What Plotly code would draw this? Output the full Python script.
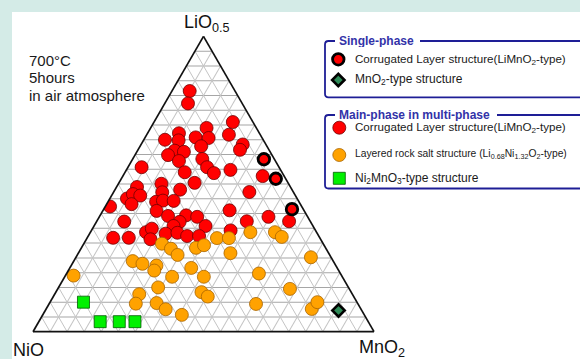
import plotly.graph_objects as go

W, H = 580, 359

# Compositions in mol% : LiO0.5 / NiO / MnO2
# Single-phase: corrugated layer structure (LiMnO2-type)
single_clr_li = [58.4, 51.8, 41.5]
single_clr_ni = [3.1, 2.9, 3.3]
single_clr_mn = [38.5, 45.3, 55.2]

# Single-phase: MnO2-type structure
single_mno2_li = [7.2]
single_mno2_ni = [6.8]
single_mno2_mn = [86.0]

# Main phase in multi-phase samples: corrugated layer structure
main_clr_li = [81.5, 77.3, 71.0, 69.0, 67.2, 66.7, 65.0, 64.8, 65.8, 65.6, 63.4, 61.6,
               62.8, 61.3, 60.9, 59.8, 57.8, 58.5, 55.7, 53.7, 55.7, 54.0, 54.8, 52.7,
               50.1, 50.4, 49.0, 48.1, 47.3, 45.1, 46.6, 46.1, 43.2, 47.2, 44.0, 44.4,
               44.3, 42.4, 40.9, 41.1, 39.2, 39.4, 38.9, 37.2, 35.8, 37.3, 35.8, 37.4,
               38.9, 37.4, 33.7, 34.9, 33.2, 33.5, 32.4, 32.4, 34.3, 31.8, 31.8, 31.3]
main_clr_ni = [13.3, 15.9, 5.9, 14.6, 23.6, 9.2, 28.8, 24.9, 19.4, 15.7, 6.8, 8.5,
               19.3, 27.8, 25.3, 30.5, 28.3, 21.1, 21.1, 20.1, 40.3, 28.5, 14.7, 6.3,
               37.3, 27.4, 45.0, 32.8, 12.9, 49.9, 47.4, 45.5, 49.5, 38.5, 41.9, 39.7,
               36.6, 56.2, 43.3, 21.8, 40.8, 35.4, 32.4, 38.4, 40.9, 54.6, 31.5, 18.6,
               11.5, 6.2, 50.0, 47.7, 44.5, 40.9, 38.6, 35.1, 24.9, 60.6, 56.0, 49.9]
main_clr_mn = [5.2, 6.8, 23.1, 16.4, 9.2, 24.1, 6.2, 10.3, 14.8, 18.7, 29.8, 29.9,
               17.9, 10.9, 13.8, 9.7, 13.9, 20.4, 23.2, 26.2, 4.0, 17.5, 30.5, 41.0,
               12.6, 22.2, 6.0, 19.1, 39.8, 5.0, 6.0, 8.4, 7.3, 14.3, 14.1, 15.9,
               19.1, 1.4, 15.8, 37.1, 20.0, 25.2, 28.7, 24.4, 23.3, 8.1, 32.7, 44.0,
               49.6, 56.4, 16.3, 17.4, 22.3, 25.6, 29.0, 32.5, 40.8, 7.6, 12.2, 18.8]

# Main phase: layered rock salt structure (Li0.68Ni1.32O2-type)
main_rs_li = [31.7, 31.7, 33.7, 33.7, 32.1, 29.8, 28.1, 26.0, 28.4, 29.3, 26.6, 25.2,
              23.9, 23.0, 22.4, 20.7, 21.6, 19.7, 19.0, 18.6, 18.6, 15.0, 14.5, 13.4,
              11.9, 12.7, 9.5, 9.7, 7.6, 9.4, 7.7, 10.0, 5.7]
main_rs_ni = [30.2, 26.7, 19.4, 12.2, 11.0, 47.3, 45.5, 44.6, 38.0, 35.2, 28.8, 5.9,
              58.8, 56.4, 52.6, 54.1, 42.8, 23.9, 78.6, 49.9, 40.6, 55.8, 17.4, 43.9,
              42.8, 62.5, 65.1, 58.9, 57.3, 29.9, 14.4, 11.6, 53.5]
main_rs_mn = [38.1, 41.6, 46.9, 54.1, 56.9, 22.9, 26.4, 29.4, 33.6, 35.5, 44.6, 68.9,
              17.3, 20.6, 25.0, 25.2, 35.6, 56.4, 2.4, 31.5, 40.8, 29.2, 68.1, 42.7,
              45.3, 24.8, 25.4, 31.4, 35.1, 60.7, 77.9, 78.4, 40.8]

# Main phase: Ni2MnO3-type structure
main_ni2_li = [10.0, 3.4, 3.4, 3.4]
main_ni2_ni = [80.2, 78.6, 73.0, 68.4]
main_ni2_mn = [9.8, 18.0, 23.6, 28.2]

# Phase labels used in the key
single_title = "Single-phase"
main_title = "Main-phase in multi-phase"
label_clr = "Corrugated Layer structure(LiMnO<sub>2</sub>-type)"
label_mno2 = "MnO<sub>2</sub>-type structure"
label_rs = "Layered rock salt structure (Li<sub>0.68</sub>Ni<sub>1.32</sub>O<sub>2</sub>-type)"
label_ni2 = "Ni<sub>2</sub>MnO<sub>3</sub>-type structure"
condition_lines = ["700°C", "5hours", "in air atmosphere"]

FONT = "Arial, 'Liberation Sans', sans-serif"
RED = dict(color="#ff0000", size=13, line=dict(color="#6e0000", width=0.8))
RING = dict(color="#ff0000", size=11.5, line=dict(color="#000000", width=2.8))
ORANGE = dict(color="#ffa200", size=13, line=dict(color="#a86400", width=0.8))
GREEN = dict(color="#00f000", size=12, symbol="square", line=dict(color="#005a00", width=0.8))
DIAMOND = dict(color="#2e8b57", size=9.5, symbol="diamond", line=dict(color="#000000", width=2.6))


def px(x):
    return x / W


def py(y):
    return 1 - y / H


fig = go.Figure()

tern_series = [
    (main_clr_li, main_clr_ni, main_clr_mn, RED),
    (main_rs_li, main_rs_ni, main_rs_mn, ORANGE),
    (main_ni2_li, main_ni2_ni, main_ni2_mn, GREEN),
    (single_clr_li, single_clr_ni, single_clr_mn, RING),
    (single_mno2_li, single_mno2_ni, single_mno2_mn, DIAMOND),
]
for a, b, c, mk in tern_series:
    fig.add_trace(go.Scatterternary(a=a, b=b, c=c, mode="markers", marker=mk,
                                    showlegend=False, hoverinfo="skip"))

# Key swatches on an overlay axis measured in pixels
key_items = [
    (338.3, 59.3, RING, label_clr, 11.6),
    (338.3, 80.0, DIAMOND, label_mno2, 12),
    (339.3, 127.7, RED, label_clr, 11.6),
    (339.3, 155.0, ORANGE, label_rs, 10.3),
    (339.3, 178.3, GREEN, label_ni2, 12),
]
for kx, ky, mk, _, _ in key_items:
    fig.add_trace(go.Scatter(x=[kx], y=[ky], mode="markers", marker=mk,
                             showlegend=False, hoverinfo="skip", cliponaxis=False))

grid_major = "#a6a6a6"
grid_minor = "#c4c4c4"


def tern_axis(gridcolor, gw):
    return dict(min=0, dtick=5, showgrid=True, gridcolor=gridcolor, gridwidth=gw,
                showline=True, linecolor="#111111", linewidth=1.7,
                ticks="", showticklabels=False, title=dict(text=""))


shapes = [
    # white panel on the tinted page
    dict(type="rect", xref="paper", yref="paper", x0=px(12), x1=px(W + 5),
         y0=py(H + 5), y1=py(12), fillcolor="white", line=dict(width=0), layer="below"),
]


def key_box(left, top, bottom, gap0, gap1, right=W + 10, r=3.5):
    """Open-ended frame whose top edge leaves a gap for the group title."""
    pts = [
        f"M{px(right)},{py(top)}",
        f"L{px(gap1)},{py(top)}",
        f"M{px(gap0)},{py(top)}",
        f"L{px(left + r)},{py(top)}",
        f"Q{px(left)},{py(top)} {px(left)},{py(top + r)}",
        f"L{px(left)},{py(bottom - r)}",
        f"Q{px(left)},{py(bottom)} {px(left + r)},{py(bottom)}",
        f"L{px(right)},{py(bottom)}",
    ]
    return dict(type="path", xref="paper", yref="paper", path=" ".join(pts),
                line=dict(color="#1e1e96", width=1.8), layer="above")


shapes.append(key_box(325, 41.0, 97.3, 335, 420))
shapes.append(key_box(325, 115.0, 188.5, 335, 497))

annotations = []


def note(text, x, y, size, color="#111111", xanchor="left", yanchor="middle", **kw):
    annotations.append(dict(text=text, x=px(x), y=py(y), xref="paper", yref="paper",
                            xanchor=xanchor, yanchor=yanchor, showarrow=False,
                            font=dict(family=FONT, size=size, color=color), **kw))


# vertex labels
note("LiO<sub>0.5</sub>", 182, 23, 18)
note("NiO", 11, 350, 18)
note("MnO<sub>2</sub>", 357, 348.5, 18)

# synthesis conditions
for i, line in enumerate(condition_lines):
    note(line, 27, 60 + i * 17.7, 15, color="#1a1a1a")

# key group titles sitting in the frame gaps
note(f"<b>{single_title}</b>", 338, 41.0, 12, color="#3232a8", borderpad=0, height=12)
note(f"<b>{main_title}</b>", 338, 115.0, 12, color="#3232a8", borderpad=0, height=12)

for kx, ky, _, label, fs in key_items:
    note(label, 354, ky, fs, color="#1a1a1a", borderpad=0, height=13)

fig.update_layout(
    width=W, height=H,
    margin=dict(l=0, r=0, t=0, b=0, pad=0),
    paper_bgcolor="#d4ebe7",
    plot_bgcolor="rgba(0,0,0,0)",
    font=dict(family=FONT),
    showlegend=False,
    ternary=dict(
        sum=100,
        domain=dict(x=[px(33), px(374)], y=[py(331.7), py(36.4)]),
        bgcolor="white",
        aaxis=tern_axis(grid_major, 1.2),
        baxis=tern_axis(grid_minor, 1),
        caxis=tern_axis(grid_minor, 1),
    ),
    xaxis=dict(range=[0, W], visible=False, domain=[0, 1], fixedrange=True),
    yaxis=dict(range=[H, 0], visible=False, domain=[0, 1], fixedrange=True),
    shapes=shapes,
    annotations=annotations,
)

fig.write_html("out.html")
